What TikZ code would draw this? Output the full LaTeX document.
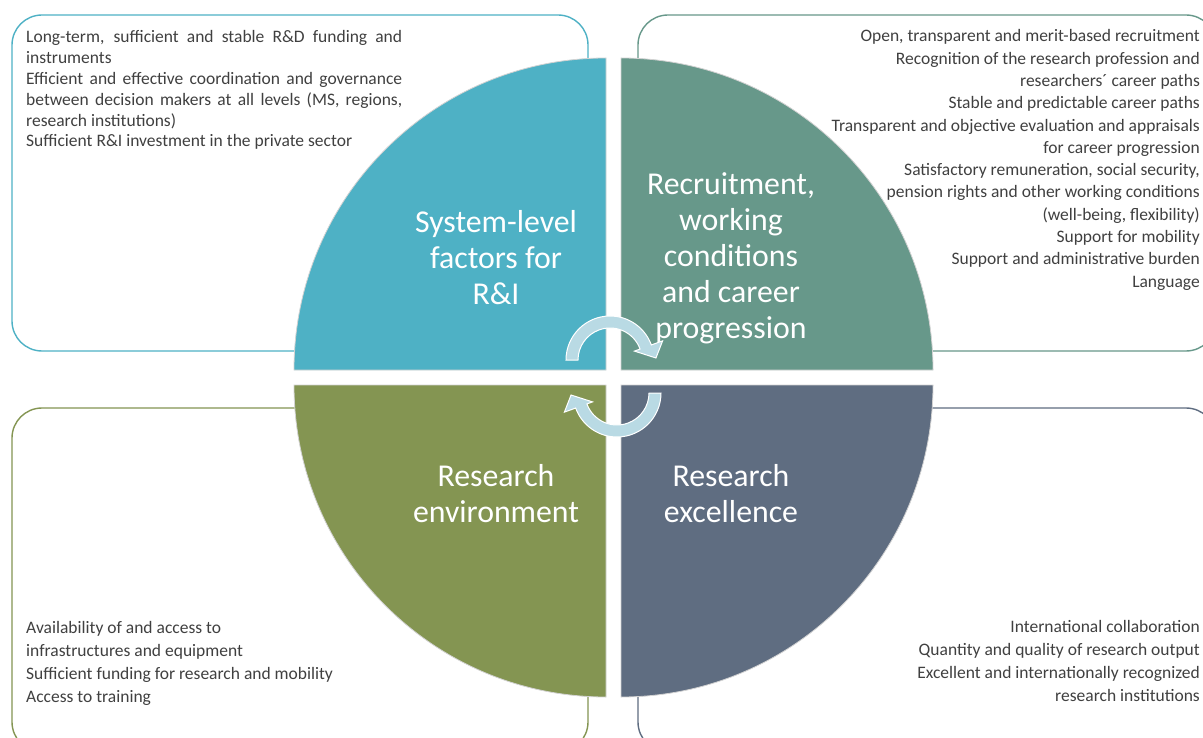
\documentclass[tikz,border=0pt]{standalone}
\usepackage{fontspec}
\setmainfont{Carlito}
\usetikzlibrary{calc}

\definecolor{sysblue}{HTML}{4EB1C5}
\definecolor{recgreen}{HTML}{67988A}
\definecolor{envolive}{HTML}{849552}
\definecolor{excslate}{HTML}{5F6D81}
\definecolor{turnblue}{HTML}{B9DAE4}
\definecolor{itemgray}{HTML}{404040}

\newcommand\fullline[1]{\makebox[376pt][s]{#1}}

\tikzset{
  factorbox/.style={rounded corners=30pt, line width=1.4pt, fill=white},
  quarter/.style={draw=gray!35, line width=0.8pt},
  quartertext/.style={text=white, font=\fontsize{31.8}{36}\selectfont, align=center, inner sep=0pt},
  itemtext/.style={text=itemgray, inner sep=0pt},
  turnarrow/.style={fill=turnblue, draw=white, line width=1pt}
}

\begin{document}
\begin{tikzpicture}[x=1pt,y=-1pt]
  \useasboundingbox (0,0) rectangle (1203,738);
  \clip (0,0) rectangle (1203,738);
  \fill[white] (0,0) rectangle (1203,738);

  \draw[factorbox, draw=sysblue]  (12,15)  rectangle (588,351);
  \draw[factorbox, draw=recgreen] (638,15) rectangle (1216,351);
  \draw[factorbox, draw=envolive] (12,408) rectangle (588,752);
  \draw[factorbox, draw=excslate] (638,408) rectangle (1216,752);

  \filldraw[quarter, fill=sysblue]  (606,370) -- (294,370) arc[start angle=180, end angle=270, radius=312] -- cycle;
  \filldraw[quarter, fill=recgreen] (621,370) -- (621,58)  arc[start angle=270, end angle=360, radius=312] -- cycle;
  \filldraw[quarter, fill=excslate] (621,385) -- (933,385) arc[start angle=0, end angle=90, radius=312] -- cycle;
  \filldraw[quarter, fill=envolive] (606,385) -- (606,697) arc[start angle=90, end angle=180, radius=312] -- cycle;

  \node[quartertext] (syslabel) at (496,258) {System-level\\factors for\\R\&I};
  \node[quartertext] (reclabel) at (731,258) {Recruitment,\\working\\conditions\\and career\\progression};
  \node[quartertext] (envlabel) at (496,493.5) {Research\\environment};
  \node[quartertext] (exclabel) at (731,493.5) {Research\\excellence};

  \coordinate (topturn) at (610,360);
  \coordinate (bottomturn) at (617,393);

  \filldraw[turnarrow] ($(topturn)+(180:44)$) arc[start angle=180, end angle=340, radius=44]
    -- ($(topturn)+(340:56)$) -- ($(topturn)+(357.5:46)$) -- ($(topturn)+(340:26)$)
    -- ($(topturn)+(340:32)$) arc[start angle=340, end angle=180, radius=32] -- cycle;
  \filldraw[turnarrow] ($(bottomturn)+(0:44)$) arc[start angle=0, end angle=160, radius=44]
    -- ($(bottomturn)+(160:56)$) -- ($(bottomturn)+(177.5:46)$) -- ($(bottomturn)+(160:26)$)
    -- ($(bottomturn)+(160:32)$) arc[start angle=160, end angle=0, radius=32] -- cycle;

  \node[itemtext, anchor=north west, align=left,
        font=\fontsize{17.5}{20.8}\selectfont] (sysitems) at (26,30.5)
    {\fullline{Long-term, sufficient and stable R\&D funding and}\\
     instruments\\
     \fullline{Efficient and effective coordination and governance}\\
     \fullline{between decision makers at all levels (MS, regions,}\\
     research institutions)\\
     Sufficient R\&I investment in the private sector};

  \node[itemtext, anchor=north east, align=right,
        font=\fontsize{17.5}{22.3}\selectfont] (recitems) at (1200,29.5)
    {Open, transparent and merit-based recruitment\\
     Recognition of the research profession and\\
     researchers´ career paths\\
     Stable and predictable career paths\\
     Transparent and objective evaluation and appraisals\\
     for career progression\\
     Satisfactory remuneration, social security,\\
     pension rights and other working conditions\\
     (well-being, flexibility)\\
     Support for mobility\\
     Support and administrative burden\\
     Language};

  \node[itemtext, anchor=north west, align=left,
        font=\fontsize{17.5}{23}\selectfont] (envitems) at (26,621.5)
    {Availability of and access to\\
     infrastructures and equipment\\
     Sufficient funding for research and mobility\\
     Access to training};

  \node[itemtext, anchor=north east, align=right,
        font=\fontsize{17.5}{23}\selectfont] (excitems) at (1200,620.5)
    {International collaboration\\
     Quantity and quality of research output\\
     Excellent and internationally recognized\\
     research institutions};
\end{tikzpicture}
\end{document}
